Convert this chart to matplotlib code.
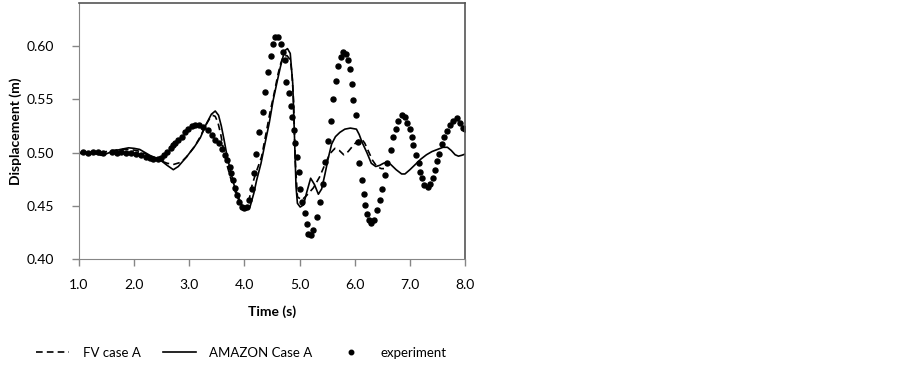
import matplotlib
matplotlib.use("Agg")
import matplotlib.pyplot as plt

# experiment (dots)
exp_t = [1.07, 1.16, 1.25, 1.34, 1.44, 1.59, 1.69, 1.77, 1.86, 1.95,
         2.04, 2.13, 2.22, 2.28, 2.34, 2.43, 2.49, 2.55, 2.60, 2.66,
         2.70, 2.74, 2.80, 2.86, 2.92, 2.98, 3.04, 3.10, 3.18, 3.25,
         3.33, 3.41, 3.47, 3.53, 3.59, 3.65, 3.69, 3.73, 3.76, 3.79,
         3.83, 3.86, 3.90, 3.95, 3.99, 4.04, 4.08, 4.14, 4.18, 4.21,
         4.27, 4.33, 4.38, 4.43, 4.49, 4.52, 4.555, 4.61, 4.66, 4.69,
         4.735, 4.76, 4.80, 4.84, 4.86, 4.89, 4.92, 4.95, 4.98, 5.01,
         5.05, 5.10, 5.13, 5.16, 5.20, 5.25, 5.31, 5.37, 5.42, 5.46,
         5.52, 5.56, 5.61, 5.66, 5.70, 5.75, 5.79, 5.84, 5.88, 5.91,
         5.95, 5.97, 6.02, 6.05, 6.08, 6.13, 6.16, 6.19, 6.22, 6.25,
         6.30, 6.35, 6.41, 6.46, 6.50, 6.55, 6.59, 6.65, 6.70, 6.74,
         6.79, 6.85, 6.91, 6.95, 7.00, 7.04, 7.06, 7.11, 7.16, 7.18,
         7.21, 7.26, 7.32, 7.37, 7.41, 7.46, 7.50, 7.53, 7.58, 7.62,
         7.68, 7.73, 7.79, 7.85, 7.91, 7.96, 8.00]
exp_y = [0.501, 0.500, 0.501, 0.501, 0.500, 0.501, 0.500, 0.501, 0.500, 0.500,
         0.4986, 0.4976, 0.4955, 0.4945, 0.4936, 0.4936, 0.4945, 0.4976, 0.5007, 0.5045,
         0.507, 0.5086, 0.5117, 0.5148, 0.519, 0.5226, 0.5248, 0.526, 0.526, 0.524,
         0.521, 0.5164, 0.5123, 0.5086, 0.503, 0.4976, 0.493, 0.4867, 0.4805, 0.474,
         0.4665, 0.460, 0.454, 0.4487, 0.4477, 0.449, 0.4555, 0.466, 0.481, 0.499,
         0.519, 0.538, 0.557, 0.576, 0.591, 0.602, 0.608, 0.608, 0.602, 0.594,
         0.587, 0.566, 0.556, 0.544, 0.533, 0.521, 0.509, 0.496, 0.482, 0.466,
         0.454, 0.443, 0.433, 0.424, 0.423, 0.427, 0.440, 0.454, 0.471, 0.491,
         0.511, 0.530, 0.550, 0.567, 0.581, 0.590, 0.594, 0.592, 0.587, 0.578,
         0.564, 0.549, 0.535, 0.510, 0.490, 0.474, 0.461, 0.451, 0.442, 0.437,
         0.434, 0.437, 0.446, 0.456, 0.466, 0.479, 0.490, 0.502, 0.515, 0.522,
         0.530, 0.535, 0.533, 0.528, 0.522, 0.515, 0.507, 0.498, 0.490, 0.482,
         0.476, 0.470, 0.468, 0.471, 0.476, 0.484, 0.492, 0.499, 0.508, 0.515,
         0.520, 0.526, 0.530, 0.532, 0.528, 0.523, 0.522]

# AMAZON Case A (solid)
amz_t = [1.0, 1.1, 1.2, 1.3, 1.4, 1.5, 1.6, 1.75, 1.9, 2.0,
         2.1, 2.2, 2.3, 2.4, 2.5, 2.6, 2.71, 2.8, 2.95, 3.1,
         3.2, 3.3, 3.4, 3.47, 3.53, 3.58, 3.63, 3.68, 3.75, 3.82,
         3.9, 3.97, 4.03, 4.1, 4.17, 4.22, 4.30, 4.37, 4.45, 4.52,
         4.59, 4.65, 4.70, 4.74, 4.78, 4.83, 4.875, 4.905, 4.935, 4.96,
         5.01, 5.07, 5.13, 5.20, 5.27, 5.34, 5.40, 5.46, 5.52, 5.58,
         5.65, 5.73, 5.82, 5.92, 6.03, 6.08, 6.13, 6.22, 6.30, 6.38,
         6.45, 6.52, 6.58, 6.65, 6.75, 6.85, 6.91, 7.0, 7.1, 7.2,
         7.3, 7.4, 7.5, 7.6, 7.68, 7.75, 7.82, 7.88, 7.94, 8.0]
amz_y = [0.499, 0.500, 0.500, 0.499, 0.4975, 0.499, 0.501, 0.503, 0.5045, 0.504,
         0.503, 0.500, 0.497, 0.495, 0.492, 0.488, 0.484, 0.487, 0.496, 0.506,
         0.514, 0.526, 0.536, 0.539, 0.535, 0.525, 0.512, 0.498, 0.482, 0.468,
         0.457, 0.449, 0.446, 0.449, 0.462, 0.474, 0.490, 0.508, 0.528, 0.549,
         0.566, 0.580, 0.590, 0.596, 0.5975, 0.593, 0.565, 0.518, 0.468, 0.4525,
         0.449, 0.451, 0.463, 0.476, 0.470, 0.461, 0.466, 0.480, 0.495, 0.508,
         0.515, 0.519, 0.522, 0.523, 0.522, 0.517, 0.510, 0.500, 0.490, 0.487,
         0.488, 0.490, 0.491, 0.489, 0.484, 0.480, 0.480, 0.484, 0.489, 0.494,
         0.498, 0.501, 0.503, 0.505, 0.505, 0.502, 0.498, 0.4967, 0.4975, 0.4986]

# FV case A (dashed)
fv_t = [1.0, 1.1, 1.2, 1.3, 1.4, 1.5, 1.6, 1.75, 1.9, 2.05,
        2.2, 2.35, 2.5, 2.6, 2.72, 2.85, 2.95, 3.1, 3.2, 3.3,
        3.37, 3.42, 3.47, 3.52, 3.57, 3.62, 3.68, 3.75, 3.82, 3.9,
        3.97, 4.02, 4.07, 4.13, 4.2, 4.31, 4.38, 4.46, 4.54, 4.61,
        4.66, 4.70, 4.77, 4.83, 4.86, 4.89, 4.92, 4.96, 5.04, 5.13,
        5.25, 5.36, 5.46, 5.55, 5.64, 5.72, 5.80, 5.88, 5.96, 6.05,
        6.12, 6.18, 6.25, 6.32, 6.40, 6.48, 6.53]
fv_y = [0.500, 0.501, 0.500, 0.500, 0.500, 0.501, 0.502, 0.503, 0.503, 0.502,
        0.499, 0.495, 0.492, 0.490, 0.489, 0.491, 0.496, 0.506, 0.515, 0.526,
        0.532, 0.535, 0.534, 0.528, 0.517, 0.503, 0.489, 0.476, 0.465, 0.455,
        0.449, 0.448, 0.452, 0.468, 0.480, 0.496, 0.515, 0.537, 0.556, 0.574,
        0.584, 0.590, 0.591, 0.587, 0.575, 0.549, 0.493, 0.4586, 0.4555, 0.460,
        0.467, 0.477, 0.489, 0.499, 0.504, 0.502, 0.498, 0.501, 0.506, 0.511,
        0.513, 0.509, 0.501, 0.493, 0.487, 0.485, 0.485]

xticks = [1.0, 2.0, 3.0, 4.0, 5.0, 6.0, 7.0, 8.0]
yticks = [0.40, 0.45, 0.50, 0.55, 0.60]

plt.rcParams['font.family'] = ['Lato', 'DejaVu Sans']
fs = 10

fig = plt.figure(figsize=(9.02, 3.65), dpi=100)
ax = fig.add_axes([0.0876, 0.2896, 0.428, 0.7014])

ax.plot(fv_t, fv_y, color="black", linestyle=(0, (4, 2.5)), linewidth=1.2, label="FV case A")
ax.plot(amz_t, amz_y, color="black", linewidth=1.2, label="AMAZON Case A")
ax.plot(exp_t, exp_y, linestyle="none", marker="o", markersize=3.6, color="black", label="experiment")

ax.set_xlim(1.0, 8.0)
ax.set_ylim(0.40, 0.64)
ax.set_xticks(xticks)
ax.set_yticks(yticks)
ax.set_xticklabels([f"{v:.1f}" for v in xticks], fontsize=fs)
ax.set_yticklabels([f"{v:.2f}" for v in yticks], fontsize=fs)
ax.tick_params(axis="both", direction="out", length=5, color="#868686", width=1)
ax.tick_params(axis="x", pad=9.5)
ax.tick_params(axis="y", pad=13)
ax.set_xlabel("Time (s)", fontsize=fs, fontweight="bold", labelpad=10)
ax.set_ylabel("Displacement (m)", fontsize=fs, fontweight="bold", labelpad=3)

for side in ["left", "bottom"]:
    ax.spines[side].set_color("#868686")
for side in ["top", "right"]:
    ax.spines[side].set_color("#555555")
    ax.spines[side].set_linewidth(1.2)

fig.legend(loc="center", bbox_to_anchor=(0.268, 0.033), ncol=3, frameon=False,
           fontsize=9.5, handlelength=2.5, columnspacing=1.7, handletextpad=1.0,
           markerscale=0.9)

fig.savefig("out.png", dpi=100)
